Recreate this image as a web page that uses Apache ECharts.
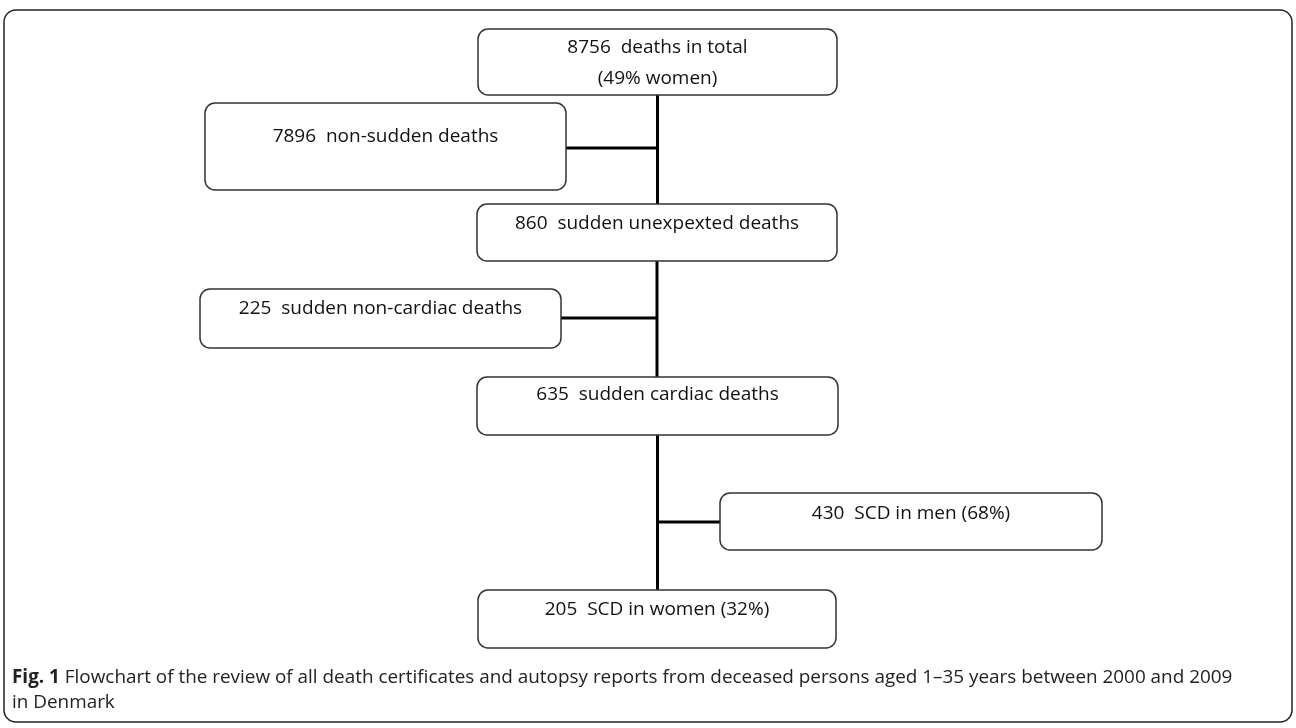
<!DOCTYPE html>
<html>
<head>
<meta charset="utf-8">
<script src="https://cdn.jsdelivr.net/npm/echarts@6/dist/echarts.min.js"></script>
<style>
  html, body { margin: 0; padding: 0; background: #fff; }
  #chart { width: 1296px; height: 728px; }
</style>
</head>
<body>
<div id="chart"></div>
<script>
// ---- Data ----
const counts = [8756, 7896, 860, 225, 635, 430, 205];
const descriptions = [
  'deaths in total',
  'non-sudden deaths',
  'sudden unexpexted deaths',
  'sudden non-cardiac deaths',
  'sudden cardiac deaths',
  'SCD in men (68%)',
  'SCD in women (32%)'
];
const subLines = ['(49% women)', '', '', '', '', '', ''];
// flow: [parent, mainChild, excludedChild]
const flows = [[0, 2, 1], [2, 4, 3], [4, 6, 5]];
const captionBold = 'Fig. 1';
const captionText = ' Flowchart of the review of all death certificates and autopsy reports from deceased persons aged 1\u201335 years between 2000 and 2009';
const captionText2 = 'in Denmark';

// ---- Layout (page units) ----
const boxLayout = [
  { x0: 478, y0: 29,  x1: 837,  y1: 95,  ty: 47 },
  { x0: 205, y0: 103, x1: 566,  y1: 190, ty: 136 },
  { x0: 477, y0: 204, x1: 837,  y1: 261, ty: 223 },
  { x0: 200, y0: 289, x1: 561,  y1: 348, ty: 308 },
  { x0: 477, y0: 377, x1: 838,  y1: 435, ty: 394 },
  { x0: 720, y0: 493, x1: 1102, y1: 550, ty: 513 },
  { x0: 478, y0: 590, x1: 836,  y1: 648, ty: 609 }
];
const branchY = [148, 318, 522];
const LINE_H = 31;

function boxLabel(i) {
  let t = counts[i] + '  ' + descriptions[i];
  if (subLines[i]) t += '\n' + subLines[i];
  return t;
}

const chart = echarts.init(document.getElementById('chart'), null, { renderer: 'canvas' });

const option = {
  animation: false,
  backgroundColor: '#fff',
  grid: { left: 0, right: 0, top: 0, bottom: 0 },
  xAxis: { type: 'value', min: 0, max: 1296, show: false },
  yAxis: { type: 'value', min: 0, max: 728, inverse: true, show: false },
  graphic: [
    {
      type: 'rect',
      shape: { x: 4, y: 10, width: 1288, height: 712, r: 12 },
      style: { fill: 'none', stroke: '#222', lineWidth: 1.5 },
      z: 0
    },
    {
      type: 'text',
      left: 12, top: 668,
      style: {
        text: '{b|' + captionBold + '}{n|' + captionText + '}\n{n|' + captionText2 + '}',
        rich: {
          b: { fontFamily: 'Open Sans', fontSize: 18.9, fontWeight: 'bold', fill: '#222', lineHeight: 25 },
          n: { fontFamily: 'Open Sans', fontSize: 18.9, fill: '#222', lineHeight: 25 }
        }
      }
    }
  ],
  series: [
    {
      type: 'custom',
      name: 'connectors',
      coordinateSystem: 'cartesian2d',
      clip: false,
      silent: true,
      z: 1,
      data: flows.map((f, k) => [k, k]),
      renderItem: function (params, api) {
        const k = api.value(0);
        const f = flows[k];
        const P = boxLayout[f[0]], C = boxLayout[f[1]], E = boxLayout[f[2]];
        const tx = (P.x0 + P.x1) / 2;
        const a = api.coord([tx, P.y1]);
        const b = api.coord([tx, C.y0]);
        const exLeft = (E.x0 + E.x1) / 2 < tx;
        const ex = exLeft ? E.x1 : E.x0;
        const c = api.coord([tx, branchY[k]]);
        const d = api.coord([ex, branchY[k]]);
        const st = { stroke: '#000', lineWidth: 3, fill: 'none' };
        return {
          type: 'group',
          children: [
            { type: 'line', shape: { x1: a[0], y1: a[1], x2: b[0], y2: b[1] }, style: st },
            { type: 'line', shape: { x1: c[0], y1: c[1], x2: d[0], y2: d[1] }, style: st }
          ]
        };
      }
    },
    {
      type: 'custom',
      name: 'boxes',
      coordinateSystem: 'cartesian2d',
      clip: false,
      silent: true,
      z: 2,
      data: counts.map((c, i) => [i, i]),
      renderItem: function (params, api) {
        const i = api.value(0);
        const L = boxLayout[i];
        const p0 = api.coord([L.x0, L.y0]);
        const p1 = api.coord([L.x1, L.y1]);
        const ty = api.coord([0, L.ty])[1];
        return {
          type: 'group',
          children: [
            {
              type: 'rect',
              shape: { x: p0[0], y: p0[1], width: p1[0] - p0[0], height: p1[1] - p0[1], r: 10 },
              style: { fill: '#fff', stroke: '#333', lineWidth: 1.5 }
            },
            {
              type: 'text',
              style: {
                text: boxLabel(i),
                x: (p0[0] + p1[0]) / 2,
                y: ty - LINE_H / 2 + 1,
                align: 'center',
                verticalAlign: 'top',
                fontFamily: 'Open Sans',
                fontSize: 19,
                lineHeight: LINE_H,
                fill: '#111'
              }
            }
          ]
        };
      }
    }
  ]
};

chart.setOption(option);
</script>
</body>
</html>
